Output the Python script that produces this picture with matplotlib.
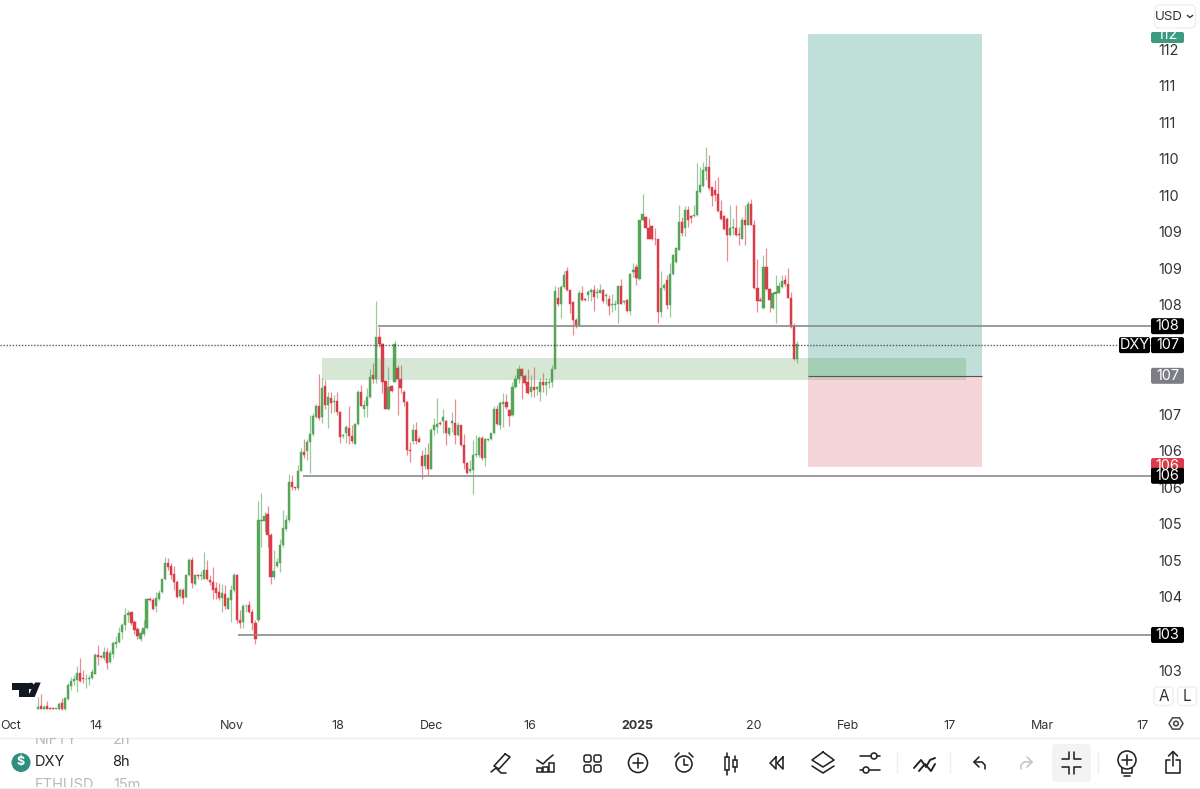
import numpy as np
import matplotlib
matplotlib.use('Agg')
from matplotlib import pyplot as plt
from matplotlib.patches import Rectangle, FancyBboxPatch, Circle, Polygon

plt.rcParams['font.family'] = ['Inter', 'DejaVu Sans']

# 8h candles
opens = [102.46,102.50,102.47,102.50,102.48,102.48,102.47,102.46,102.55,102.46,102.60,
         102.78,102.85,102.86,102.96,102.89,102.87,102.88,102.89,102.95,103.20,
         103.19,103.17,103.25,103.11,103.22,103.36,103.38,103.52,103.62,103.75,
         103.79,103.66,103.56,103.42,103.49,103.57,103.97,103.96,103.87,103.97,
         104.07,104.24,104.46,104.42,104.32,104.21,104.02,104.10,104.00,104.30,
         104.51,104.18,104.30,104.29,104.25,104.37,104.23,104.21,104.12,104.07,
         103.99,104.04,103.84,103.96,104.09,104.30,103.68,103.66,103.87,103.89,
         103.79,103.65,103.68,105.04,105.04,105.14,104.85,104.27,104.42,104.47,
         104.71,104.93,105.05,105.58,105.50,105.49,105.73,105.99,106.00,106.12,
         106.23,106.47,106.61,106.46,106.89,106.63,106.73,106.67,106.68,106.54,
         106.20,106.24,106.32,106.20,106.10,106.37,106.81,106.57,106.62,106.74,
         107.04,106.99,107.56,107.47,106.96,106.57,106.89,106.95,107.14,106.99,
         106.81,106.67,106.02,106.14,106.29,106.16,105.93,105.79,105.94,105.76,
         106.29,106.33,106.39,106.41,106.41,106.23,106.39,106.39,106.22,106.35,
         106.08,105.84,105.72,105.74,105.94,105.94,106.18,105.90,106.15,106.16,
         106.24,106.57,106.36,106.65,106.67,106.56,106.49,106.87,106.99,107.12,
         107.03,106.94,106.81,106.87,106.85,106.81,106.94,106.90,106.93,106.95,
         107.13,108.10,108.02,108.24,108.47,108.21,108.04,107.80,107.73,108.16,
         108.08,108.14,108.18,108.21,108.17,108.17,108.21,108.13,108.08,108.00,
         108.00,108.01,108.26,108.04,108.07,107.92,108.45,108.52,108.35,109.16,
         109.21,109.06,109.08,108.91,108.90,107.91,108.23,108.34,108.00,108.42,
         108.59,108.76,109.14,109.06,109.30,109.22,109.22,109.23,109.55,109.63,
         109.84,109.89,109.61,109.58,109.52,109.29,109.22,109.18,108.96,109.05,
         109.06,108.97,108.90,109.17,109.10,109.39,109.10,108.23,108.07,107.96,
         108.52,108.22,107.96,108.15,108.17,108.25,108.34,108.29,108.09,107.71,107.26]
closes = [102.49,102.47,102.49,102.46,102.47,102.47,102.48,102.54,102.46,102.61,102.79,
          102.85,102.88,102.96,102.85,102.88,102.88,102.89,102.97,103.20,103.18,
          103.18,103.24,103.10,103.23,103.37,103.39,103.51,103.62,103.75,103.78,
          103.64,103.55,103.46,103.50,103.57,103.97,103.96,103.84,103.98,104.05,
          104.24,104.47,104.41,104.30,104.21,104.00,104.10,103.99,104.30,104.51,
          104.19,104.30,104.29,104.30,104.37,104.25,104.20,104.10,104.05,103.99,
          104.05,103.87,103.98,104.10,104.30,103.68,103.65,103.88,103.88,103.80,
          103.64,103.42,105.05,105.05,105.11,104.85,104.27,104.35,104.48,104.71,
          104.94,105.05,105.57,105.50,105.49,105.73,105.99,105.94,106.12,106.23,
          106.48,106.61,106.45,106.86,106.63,106.74,106.66,106.68,106.54,106.19,
          106.22,106.33,106.20,106.14,106.37,106.81,106.62,106.63,106.74,107.02,
          106.98,107.56,107.47,106.95,106.58,106.88,106.82,107.47,106.98,106.86,
          106.67,106.01,106.00,106.29,106.14,106.13,105.79,105.94,105.76,106.29,
          106.36,106.37,106.37,106.46,106.24,106.32,106.41,106.22,106.36,106.08,
          105.83,105.70,105.76,105.94,105.96,106.18,105.90,106.16,106.16,106.24,
          106.58,106.37,106.66,106.67,106.60,106.48,106.87,106.99,107.12,107.03,
          106.93,106.79,106.88,106.84,106.87,106.94,106.90,106.94,106.95,107.13,
          108.19,108.02,108.24,108.41,108.21,108.02,107.79,107.73,108.16,108.07,
          108.07,108.18,108.21,108.11,108.18,108.21,108.06,108.14,107.99,108.01,
          108.01,108.26,108.02,108.06,107.92,108.43,108.48,108.37,109.16,109.25,
          109.06,108.91,108.90,108.90,107.91,108.23,108.27,108.00,108.43,108.68,
          108.78,109.14,108.99,109.30,109.16,109.19,109.23,109.56,109.64,109.85,
          109.89,109.60,109.49,109.51,109.29,109.18,109.04,108.96,109.06,109.07,
          108.96,108.96,109.17,109.10,109.39,109.10,108.23,108.05,108.05,108.52,
          108.22,108.07,108.16,108.18,108.26,108.33,108.29,108.10,107.70,107.26,107.47]
highs = [102.63,102.67,102.52,102.58,102.49,102.48,102.48,102.56,102.62,102.63,102.82,
         102.91,102.93,103.05,103.16,103.00,102.95,102.93,103.01,103.23,103.34,
         103.20,103.32,103.30,103.28,103.40,103.46,103.59,103.64,103.85,103.82,
         103.80,103.68,103.59,103.55,103.68,103.99,104.00,103.98,104.07,104.09,
         104.25,104.55,104.53,104.46,104.42,104.23,104.12,104.12,104.32,104.54,
         104.55,104.32,104.32,104.35,104.62,104.51,104.30,104.41,104.21,104.19,
         104.18,104.16,104.00,104.16,104.33,104.32,103.82,103.91,103.91,103.94,
         103.84,103.68,105.31,105.43,105.17,105.24,104.87,104.64,104.53,104.80,
         105.19,105.12,105.69,105.67,105.51,105.81,106.04,106.16,106.16,106.49,
         106.52,106.65,107.05,107.00,106.97,106.81,106.81,106.77,106.81,106.55,
         106.23,106.36,106.62,106.36,106.38,106.83,106.90,106.70,106.86,107.13,
         107.20,108.06,107.70,107.48,106.97,107.15,106.90,107.50,107.18,107.18,
         106.83,106.68,106.13,106.37,106.40,106.20,106.01,106.06,106.11,106.31,
         106.45,106.72,106.41,106.58,106.42,106.33,106.54,106.71,106.40,106.36,
         106.23,105.85,105.88,106.15,106.22,106.20,106.20,106.18,106.17,106.25,
         106.62,106.63,106.68,106.79,106.78,106.58,106.95,107.04,107.18,107.14,
         107.05,107.13,107.04,107.15,106.89,107.00,107.07,107.00,107.00,107.18,
         108.26,108.25,108.27,108.47,108.52,108.21,108.05,107.82,108.21,108.26,
         108.09,108.21,108.23,108.28,108.23,108.29,108.22,108.17,108.14,108.15,
         108.07,108.27,108.35,108.07,108.08,108.44,108.57,108.56,109.17,109.52,
         109.22,109.19,109.10,109.05,108.91,108.47,108.30,108.41,108.57,108.70,
         108.79,109.37,109.20,109.35,109.35,109.23,109.37,109.95,109.89,109.96,
         110.17,110.05,109.62,109.71,109.75,109.44,109.23,109.20,109.37,109.19,
         109.37,109.07,109.21,109.37,109.42,109.45,109.17,108.63,108.11,108.68,
         108.78,108.23,108.18,108.41,108.32,108.41,108.41,108.50,108.18,107.75,107.50]
lows = [102.46,102.46,102.46,102.46,102.46,102.47,102.46,102.45,102.45,102.45,102.59,
        102.73,102.79,102.70,102.84,102.82,102.75,102.79,102.87,102.94,103.07,
        103.16,103.14,103.01,103.09,103.16,103.30,103.37,103.42,103.55,103.66,
        103.62,103.50,103.43,103.40,103.46,103.56,103.94,103.82,103.80,103.96,
        104.06,104.23,104.37,104.25,104.10,103.98,103.99,103.91,103.98,104.29,
        104.12,104.16,104.25,104.23,104.24,104.23,104.16,103.97,103.97,103.96,
        103.80,103.84,103.84,103.66,104.07,103.64,103.57,103.58,103.80,103.78,
        103.55,103.36,103.66,104.69,104.89,104.69,104.18,104.25,104.41,104.34,
        104.69,104.91,105.03,105.47,105.47,105.47,105.72,105.90,105.88,105.70,
        106.21,106.45,106.42,106.38,106.58,106.32,106.52,106.54,106.49,106.11,
        106.18,106.11,106.10,106.11,106.09,106.36,106.61,106.47,106.46,106.73,
        106.93,106.93,107.43,106.79,106.57,106.56,106.81,106.95,106.49,106.79,
        106.62,105.94,105.85,106.10,106.10,106.12,105.61,105.76,105.67,105.75,
        106.22,106.24,106.36,106.24,106.08,106.20,106.26,106.10,106.20,106.07,
        105.76,105.68,105.70,105.41,105.92,105.92,105.88,105.79,106.14,106.15,
        106.23,106.35,106.30,106.33,106.58,106.34,106.48,106.86,106.93,106.71,
        106.90,106.78,106.74,106.74,106.77,106.69,106.81,106.77,106.86,106.88,
        107.12,107.98,107.82,108.23,108.19,107.89,107.59,107.68,107.71,108.06,
        108.06,108.06,108.05,107.92,108.09,108.16,108.03,108.02,107.86,107.91,
        107.93,107.75,108.01,108.02,107.91,107.86,108.39,108.27,108.34,109.15,
        109.05,108.90,108.89,108.82,107.75,107.84,108.21,107.95,107.84,108.41,
        108.58,108.75,108.94,108.94,109.07,109.12,109.21,109.22,109.54,109.62,
        109.71,109.58,109.35,109.42,109.28,109.16,109.03,108.60,108.94,108.96,
        108.95,108.82,108.90,108.82,109.09,109.09,108.22,107.91,108.05,107.95,
        108.21,107.91,107.95,107.75,108.16,108.23,108.26,108.09,107.69,107.25,107.21]

price_ticks = [111.5, 111, 110.5, 110, 109.5, 109, 108.5, 108, 106.5, 106, 105.5, 105, 104.5, 104, 103]
price_labels = ['112', '111', '111', '110', '110', '109', '109', '108', '107', '106', '106', '105', '105', '104', '103']

# date axis ticks, in candle numbers
date_ticks = [-8.8, 19.3, 64.3, 99.3, 130.1, 162.8, 198.2, 236.9, 268, 301.4, 332.1, 365.2]
date_labels = ['Oct', '14', 'Nov', '18', 'Dec', '16', '2025', '20', 'Feb', '17', 'Mar', '17']

# drawings: price, first candle
level_prices = [107.71, 105.66, 103.48]
level_starts = [112.5, 87.7, 66.2]
zone_low, zone_high = 106.97, 107.27
zone_start, zone_end = 94.0, 306.9
entry_price, target_price, stop_price = 107.03, 111.71, 105.78
pos_start, pos_end = 254.7, 312.3
last_price = 107.45

GREEN = '#56a65a'
RED = '#dc3c4a'
W, H = 1200, 789
CHART_W, CHART_H = 1151, 712
STEP = 3.024
X0 = 37.7
P_TOP = 110 + 159 / 73
P_BOT = 110 - (CHART_H - 159) / 73


def px_y(price):
    return (P_TOP - price) / (P_TOP - P_BOT) * CHART_H


fig = plt.figure(figsize=(W / 100, H / 100), dpi=100, facecolor='white')
ax = fig.add_axes([0, 1 - CHART_H / H, CHART_W / W, CHART_H / H])
ax.set_xlim(-X0 / STEP, (CHART_W - X0) / STEP)
ax.set_ylim(P_BOT, P_TOP)
for s in ax.spines.values():
    s.set_visible(False)

o = np.array(opens)
c = np.array(closes)
hi = np.array(highs)
lo = np.array(lows)
x = np.arange(len(o))
cols = [GREEN if a >= b else RED for a, b in zip(c, o)]

ax.vlines(x, lo, hi, colors=cols, lw=0.9, alpha=0.6, zorder=2)
ax.bar(x, np.abs(c - o), bottom=np.minimum(o, c), width=0.72, color=cols,
       edgecolor=cols, linewidth=0.3, zorder=3)

# drawings
ax.add_patch(Rectangle((pos_start, entry_price), pos_end - pos_start, target_price - entry_price,
                       fc='#bfdfd8', ec='none', zorder=4))
ax.add_patch(Rectangle((pos_start, stop_price), pos_end - pos_start, entry_price - stop_price,
                       fc='#f4d6d8', ec='none', zorder=4))
ax.axhline(last_price, color='#333333', lw=1.0, ls=(0, (1, 1.2)), alpha=0.8, zorder=5)
for p, st in zip(level_prices, level_starts):
    ax.hlines(p, st, ax.get_xlim()[1], color='#8a8a8a', lw=1.2, zorder=5)
ax.add_patch(Rectangle((zone_start, zone_low), zone_end - zone_start, zone_high - zone_low,
                       fc=(76 / 255, 150 / 255, 70 / 255, 0.22), ec='none', zorder=6))
ax.hlines(entry_price, pos_start, pos_end, color='#555555', lw=0.8, zorder=7)

ax.yaxis.tick_right()
ax.set_yticks(price_ticks)
ax.set_yticklabels(price_labels, va='center_baseline')
ax.set_xticks(date_ticks)
ax.set_xticklabels(date_labels)
ax.tick_params(axis='y', length=0, pad=5.5, labelsize=10.4, labelcolor='#333333')
ax.tick_params(axis='x', length=0, pad=6, labelsize=9, labelcolor='#333333')
for lab in ax.get_xticklabels():
    if lab.get_text() == '2025':
        lab.set_fontweight('bold')

# overlay in pixels for the app chrome
ui = fig.add_axes([0, 0, 1, 1])
ui.set_xlim(0, W)
ui.set_ylim(H, 0)
ui.axis('off')
ui.patch.set_alpha(0)


def pill(x0, x1, yc, text, color, h=16):
    y0 = yc - h / 2
    box = FancyBboxPatch((x0 + 1, y0 + 1), x1 - x0 - 2, h - 2, boxstyle='round,pad=1,rounding_size=2',
                         fc=color, ec='none', zorder=5)
    ui.add_patch(box)
    t = ui.text((x0 + x1) / 2, yc + 0.3, text, color='white', ha='center', va='center', fontsize=10.4, zorder=6)
    return box, t


box, t = pill(1151, 1184, 37.5, '', '#3d9a80', h=11)
t = ui.text(1167.5, 35, '112', color='white', ha='center', va='center', fontsize=10.4, zorder=6)
t.set_clip_on(True)
t.set_clip_path(box)
pill(1151, 1184, px_y(level_prices[0]), '108', '#000000')
pill(1119, 1150, px_y(last_price), 'DXY', '#000000')
pill(1151, 1184, px_y(last_price), '107', '#000000')
pill(1151, 1184, px_y(entry_price), '107', '#7d7e85')
pill(1151, 1184, px_y(stop_price) - 1, '106', '#dc3c4a')
pill(1151, 1184, px_y(level_prices[1]), '106', '#000000')
pill(1151, 1184, px_y(level_prices[2]), '103', '#000000')

# USD button, A / L buttons, gear
ui.add_patch(FancyBboxPatch((1154.5, 5), 41, 23, boxstyle='round,pad=0,rounding_size=5', fc='white', ec='#eeeeee', lw=1))
ui.text(1169, 16.5, 'USD', ha='center', va='center', fontsize=9.6, color='#333333')
ui.plot([1187.5, 1190, 1192.5], [15.5, 17.5, 15.5], color='#333333', lw=1)
for xc, s in zip([1163.5, 1187], ['A', 'L']):
    ui.add_patch(FancyBboxPatch((xc - 9.5, 687), 19, 18.5, boxstyle='round,pad=0,rounding_size=4', fc='white', ec='#eeeeee', lw=1))
    ui.text(xc, 696.5, s, ha='center', va='center', fontsize=11, color='#333333')
ang = np.deg2rad([0, 60, 120, 180, 240, 300])
ui.add_patch(Polygon(np.c_[1176 + 7 * np.cos(ang), 723.5 + 6.5 * np.sin(ang)], fc='none', ec='#444444', lw=1.1))
ui.add_patch(Circle((1176, 723.5), 2.3, fc='none', ec='#444444', lw=1.1))

# TV logo
ui.add_patch(Polygon([(12, 682.5), (28.5, 682.5), (28.5, 697), (18.5, 697), (18.5, 689.5), (12, 689.5)], fc='#131722', ec='none'))
ui.add_patch(Polygon([(35, 682.5), (40.7, 682.5), (34.7, 697), (27.5, 697)], fc='#131722', ec='none'))
ui.add_patch(Circle((30.8, 686), 3.3, fc='#131722', ec='none'))

# bottom panel
ui.plot([0, W], [738, 738], color='#eeeeee', lw=1)
ui.plot([0, W], [787.5, 787.5], color='#eeeeee', lw=1)
clip = Rectangle((0, 738), W, 49, transform=ui.transData)
for txt, xt, y in [('NIFTY', 35, 739.5), ('2h', 113, 739.5), ('ETHUSD', 35, 785), ('15m', 113, 785)]:
    t = ui.text(xt, y, txt, va='center', fontsize=10.5, color='#b9b9b9')
    t.set_clip_on(True)
    t.set_clip_path(clip)
ui.text(35, 762.5, 'DXY', va='center', fontsize=10.5, color='#222222')
ui.text(112, 762.5, '8h', va='center', fontsize=10.5, color='#222222')
ui.add_patch(Circle((21, 762.5), 9.5, fc='#2f8f7f', ec='none'))
ui.text(21, 762.5, '$', ha='center', va='center', fontsize=9, color='white', fontweight='bold')

# toolbar icons
ui.add_patch(FancyBboxPatch((1052, 744), 39, 38, boxstyle='round,pad=0,rounding_size=4', fc='#f3f3f5', ec='none'))
INK = '#222222'


def line(xs, ys, col=INK, lw=1.15):
    ui.plot(xs, ys, color=col, lw=lw, solid_capstyle='round', solid_joinstyle='round')


def ring(xc, yc, r, lw=1.15, col=INK):
    ui.add_patch(Circle((xc, yc), r, fc='none', ec=col, lw=lw))


# pencil
line([505, 510, 499, 494, 505], [754, 757, 769, 766, 754])
line([491, 496, 501, 506], [772, 768, 773, 773])
# chart
line([537, 543, 547, 553], [760, 764, 760, 755])
for bx, top in [(537, 768), (543, 767), (549, 763)]:
    ui.add_patch(Rectangle((bx, top), 5, 772 - top, fc='none', ec=INK, lw=1.1))
# grid
for gx in [584, 594]:
    for gy in [755, 765]:
        ui.add_patch(FancyBboxPatch((gx, gy), 7, 7, boxstyle='round,pad=0,rounding_size=2', fc='none', ec=INK, lw=1.1))
# plus
ring(638, 763, 9.5)
line([638, 638], [758, 768])
line([633, 643], [763, 763])
# alarm
ring(684, 764, 8)
line([684, 684, 688], [759, 765, 765])
line([675, 679], [757, 753])
line([693, 689], [757, 753])
# candles
for bx, t0, t1, w0, w1 in [(727, 757, 770, 753, 775), (735, 760, 767, 756, 772)]:
    line([bx, bx], [w0, t0])
    line([bx, bx], [t1, w1])
    ui.add_patch(Rectangle((bx - 2, t0), 4, t1 - t0, fc='none', ec=INK, lw=1.1))
# rewind
line([776, 770, 776, 776], [757, 763, 769, 757])
line([783, 777, 783, 783], [757, 763, 769, 757])
# layers
line([823, 834, 823, 812, 823], [752, 760, 767, 760, 752])
line([812, 823, 834], [766, 773, 766])
# sliders
line([860, 871], [756, 756])
line([877, 880], [756, 756])
ring(874, 756, 3)
line([860, 863], [770, 770])
line([869, 880], [770, 770])
ring(866, 770, 3)
# squiggle
line([914, 921, 926, 930, 935], [768, 760, 767, 760, 758], lw=1.4)
line([919, 925, 931, 935], [771, 764, 771, 764], lw=1.4)
# undo / redo
line([979, 974, 979], [757, 762, 767])
line([974, 982, 985, 985], [762, 762, 765, 769])
line([1027, 1032, 1027], [757, 762, 767], col='#c4c4c4')
line([1032, 1024, 1021, 1021], [762, 762, 765, 769], col='#c4c4c4')
# collapse
line([1069, 1069, 1062], [752, 759, 759])
line([1074, 1074, 1081], [752, 759, 759])
line([1062, 1069, 1069], [767, 767, 774])
line([1081, 1074, 1074], [767, 767, 774])
# bulb
ring(1127, 760, 9)
line([1127, 1127], [755, 765])
line([1122, 1132], [760, 760])
line([1122, 1122, 1132, 1132], [768, 773, 773, 768])
line([1124, 1130], [776, 776])
# share
line([1170, 1166, 1166, 1180, 1180, 1176], [760, 760, 773, 773, 760, 760])
line([1173, 1173], [752, 766])
line([1168.5, 1173, 1177.5], [756, 751.5, 756])
# separators
for sx in [897, 950, 1098]:
    line([sx, sx], [753, 773], col='#eeeeee', lw=1)

fig.savefig('out.png', dpi=100)
